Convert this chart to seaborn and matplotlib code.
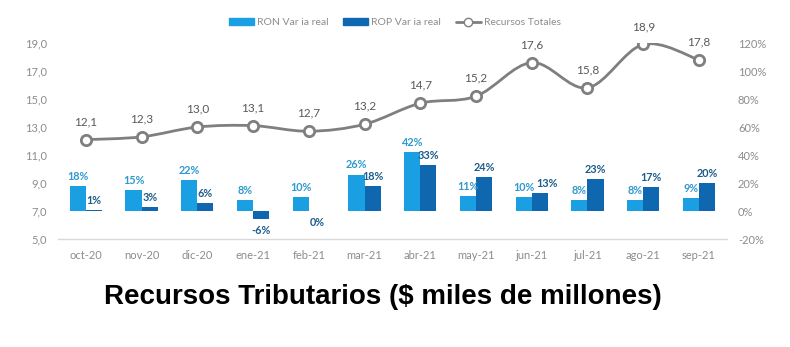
import numpy as np
import pandas as pd
import matplotlib
matplotlib.use("Agg")
import matplotlib.pyplot as plt
from matplotlib.path import Path
from matplotlib.patches import PathPatch, Patch
from matplotlib.lines import Line2D
import seaborn as sns

months = ["oct-20", "nov-20", "dic-20", "ene-21", "feb-21", "mar-21",
          "abr-21", "may-21", "jun-21", "jul-21", "ago-21", "sep-21"]
ron = [18, 15, 22, 8, 10, 26, 42, 11, 10, 8, 8, 9]
rop = [1, 3, 6, -6, 0, 18, 33, 24, 13, 23, 17, 20]
totales = [12.1, 12.3, 13.0, 13.1, 12.7, 13.2, 14.7, 15.2, 17.6, 15.8, 18.9, 17.8]
left_ticks = [5.0, 7.0, 9.0, 11.0, 13.0, 15.0, 17.0, 19.0]
right_ticks = [-20, 0, 20, 40, 60, 80, 100, 120]

C_RON = "#1A9FE3"
C_ROP = "#0F67AF"
C_RON_TXT = "#2E98CF"
C_ROP_TXT = "#1D5C8A"
C_LINE = "#7F7F7F"
C_TXT = "#595959"
C_TICK = "#8C8C8C"

sns.set_theme(style="white")
plt.rcParams["font.family"] = ["Lato", "DejaVu Sans"]

fig = plt.figure(figsize=(7.9, 3.47), dpi=100)
ax = fig.add_axes([0.0734, 0.311, 0.8466, 0.565])
ax2 = ax.twinx()

# bars on secondary axis
df = pd.DataFrame({
    "mes": months * 2,
    "serie": ["RON Var ia real"] * len(months) + ["ROP Var ia real"] * len(months),
    "valor": [v / 100 for v in ron] + [v / 100 for v in rop],
})
sns.barplot(data=df, x="mes", y="valor", hue="serie", order=months,
            palette=[C_RON, C_ROP], width=0.58, saturation=1, ax=ax2,
            legend=False, linewidth=0)

bw = 0.29
for i in range(len(months)):
    for k, (val, off, col) in enumerate(((ron[i], -bw / 2, C_RON_TXT), (rop[i], bw / 2, C_ROP_TXT))):
        y = val / 100
        dx = 0
        if k == 1 and val > 0 and abs(ron[i] - rop[i]) < 5:
            dx = 5
        if val > 0:
            ax2.annotate(f"{val}%", (i + off, y), xytext=(dx, 3), textcoords="offset points",
                         ha="center", va="bottom", fontsize=7.8, fontweight="bold", color=col)
        else:
            ax2.annotate(f"{val}%", (i + off, y), xytext=(dx, -4), textcoords="offset points",
                         ha="center", va="top", fontsize=7.8, fontweight="bold", color=col)

ax2.set_ylim(-0.2, 1.2)
ax2.set_yticks([t / 100 for t in right_ticks])
ax2.set_yticklabels([f"{t}%" for t in right_ticks])
ax2.set_ylabel("")
ax2.set_xlabel("")

# smooth line on primary axis
x = np.arange(len(months), dtype=float)
y = np.array(totales)
pts = np.column_stack([x, y])
verts = [tuple(pts[0])]
codes = [Path.MOVETO]
n = len(pts)
for i in range(n - 1):
    p0 = pts[i - 1] if i > 0 else pts[i]
    p1 = pts[i]
    p2 = pts[i + 1]
    p3 = pts[i + 2] if i + 2 < n else pts[i + 1]
    c1 = p1 + (p2 - p0) / 6
    c2 = p2 - (p3 - p1) / 6
    verts += [tuple(c1), tuple(c2), tuple(p2)]
    codes += [Path.CURVE4] * 3
ax.add_patch(PathPatch(Path(verts, codes), facecolor="none", edgecolor=C_LINE, lw=2, zorder=3))
sns.scatterplot(x=x, y=y, ax=ax, s=55, facecolor="white", edgecolor=C_LINE,
                linewidth=2, zorder=4, legend=False)
for xi, yi in zip(x, y):
    ax.annotate(f"{yi:.1f}".replace(".", ","), (xi, yi), xytext=(0, 9), textcoords="offset points",
                ha="center", va="bottom", fontsize=8.5, color=C_TXT)

ax.set_xlim(-0.5, len(months) - 0.5)
ax.set_ylim(5, 19)
ax.set_yticks(left_ticks)
ax.set_yticklabels([f"{t:.1f}".replace(".", ",") for t in left_ticks])
ax.set_xticks(x)
ax.set_xticklabels(months)
ax.set_xlabel("")

# put line axes above bars
ax.set_zorder(ax2.get_zorder() + 1)
ax.patch.set_visible(False)

for a in (ax, ax2):
    for s in a.spines.values():
        s.set_visible(False)
    a.tick_params(length=0, labelsize=8, labelcolor=C_TICK, pad=8)
ax.spines["bottom"].set_visible(True)
ax.spines["bottom"].set_color("#D9D9D9")
ax.spines["bottom"].set_linewidth(1)

handles = [Patch(color=C_RON), Patch(color=C_ROP),
           Line2D([0], [0], color=C_LINE, lw=2, marker="o", markerfacecolor="white",
                  markeredgecolor=C_LINE, markersize=6)]
labels = ["RON Var ia real", "ROP Var ia real", "Recursos Totales"]
fig.legend(handles, labels, loc="center", bbox_to_anchor=(0.5, 0.934), ncol=3,
           frameon=False, fontsize=7.5, labelcolor=C_TICK, handlelength=2.4,
           handleheight=0.6, columnspacing=1.4, handletextpad=0.3)

fig.text(0.485, 0.144, "Recursos Tributarios ($ miles de millones)", ha="center", va="center",
         fontsize=20, fontweight="bold", color="black", family=["Liberation Sans", "DejaVu Sans"])

fig.savefig("out.png", dpi=100, facecolor="white")
